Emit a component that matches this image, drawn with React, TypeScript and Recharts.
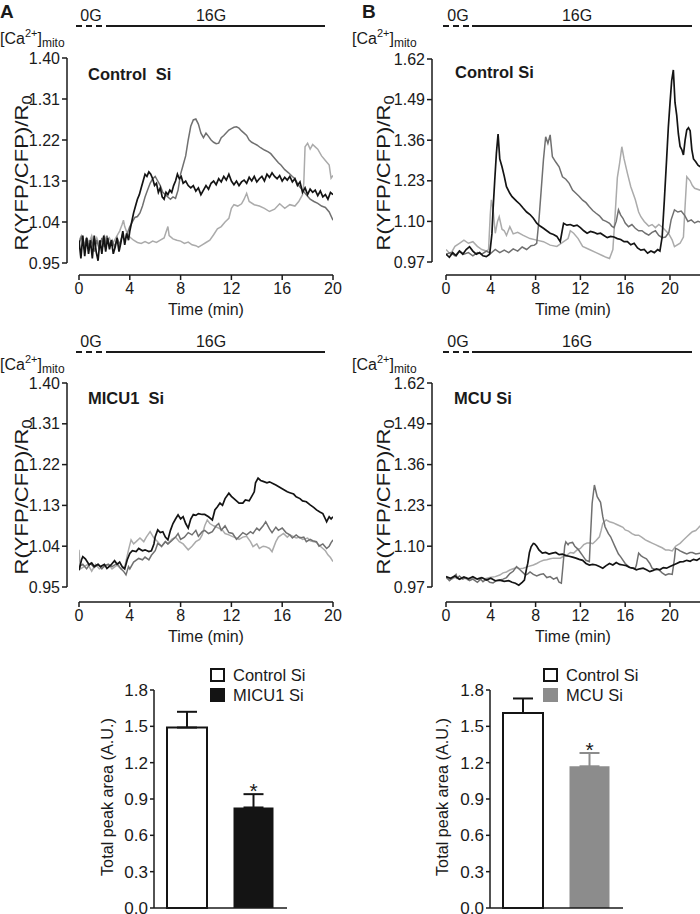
import React from 'react';
import { LineChart, Line, XAxis, YAxis, BarChart, Bar, Cell, ErrorBar, LabelList, Legend } from 'recharts';

const FONT = '"Liberation Sans", Arial, Helvetica, sans-serif';
const INK = '#1a1a1a';
const C_BLACK = '#141414';
const C_DARK = '#707070';
const C_LIGHT = '#ababab';

// ---------- Panel A (top): Control Si, [time min, ratio] ----------
const A1_BLACK: [number, number][] = [[0,1.0],[0.15,0.96],[0.3,1.01],[0.45,0.965],[0.6,1.005],[0.75,0.97],[0.9,1.0],[1.05,0.96],[1.2,1.01],[1.35,0.975],[1.5,0.955],[1.65,1.0],[1.8,0.97],[1.95,1.01],[2.1,0.975],[2.25,1.005],[2.4,0.98],[2.55,1.0],[2.7,0.97],[2.85,0.985],[3.0,1.005],[3.15,0.975],[3.3,0.995],[3.45,1.02],[3.6,0.99],[3.75,1.015],[3.9,1.0],[4.0,1.02],[4.15,1.04],[4.3,1.06],[4.45,1.075],[4.6,1.09],[4.75,1.1],[4.9,1.115],[5.05,1.13],[5.2,1.145],[5.35,1.14],[5.5,1.15],[5.65,1.145],[5.8,1.135],[5.95,1.12],[6.1,1.125],[6.25,1.105],[6.4,1.115],[6.55,1.095],[6.7,1.09],[6.85,1.105],[7.0,1.1],[7.15,1.11],[7.3,1.105],[7.45,1.12],[7.6,1.13],[7.75,1.145],[7.9,1.135],[8.05,1.14],[8.2,1.125],[8.4,1.13],[8.6,1.12],[8.8,1.115],[9.0,1.12],[9.2,1.108],[9.4,1.115],[9.6,1.1],[9.8,1.11],[10.0,1.12],[10.2,1.112],[10.4,1.125],[10.6,1.13],[10.8,1.122],[11.0,1.135],[11.2,1.128],[11.4,1.14],[11.6,1.132],[11.8,1.145],[12.0,1.13],[12.2,1.122],[12.4,1.13],[12.6,1.12],[12.8,1.128],[13.0,1.132],[13.2,1.125],[13.4,1.138],[13.6,1.13],[13.8,1.14],[14.0,1.128],[14.2,1.135],[14.4,1.14],[14.6,1.13],[14.8,1.145],[15.0,1.138],[15.2,1.148],[15.4,1.14],[15.6,1.135],[15.8,1.142],[16.0,1.13],[16.2,1.138],[16.4,1.132],[16.6,1.14],[16.8,1.128],[17.0,1.135],[17.2,1.12],[17.4,1.128],[17.6,1.105],[17.8,1.115],[18.0,1.1],[18.2,1.112],[18.4,1.105],[18.6,1.11],[18.8,1.098],[19.0,1.108],[19.2,1.095],[19.4,1.1],[19.6,1.09],[19.8,1.105],[20.0,1.1]];
const A1_DARK: [number, number][] = [[0,0.99],[0.2,1.01],[0.4,0.98],[0.6,1.005],[0.8,0.985],[1.0,1.0],[1.2,0.975],[1.4,1.0],[1.6,0.98],[1.8,1.005],[2.0,0.985],[2.2,1.01],[2.4,0.99],[2.6,1.0],[2.8,0.985],[3.0,1.005],[3.2,0.99],[3.4,1.01],[3.6,1.0],[3.8,1.015],[4.0,1.03],[4.2,1.04],[4.4,1.05],[4.6,1.052],[4.8,1.06],[5.0,1.075],[5.2,1.095],[5.4,1.11],[5.6,1.125],[5.8,1.135],[6.0,1.14],[6.2,1.13],[6.4,1.12],[6.6,1.105],[6.8,1.1],[7.0,1.095],[7.2,1.09],[7.4,1.095],[7.6,1.092],[7.8,1.11],[8.0,1.145],[8.2,1.165],[8.4,1.185],[8.6,1.22],[8.8,1.25],[9.0,1.264],[9.2,1.266],[9.4,1.255],[9.6,1.235],[9.8,1.225],[10.0,1.235],[10.2,1.228],[10.4,1.22],[10.6,1.215],[10.8,1.212],[11.0,1.213],[11.2,1.225],[11.4,1.23],[11.6,1.236],[11.8,1.242],[12.0,1.245],[12.2,1.248],[12.4,1.249],[12.6,1.246],[12.8,1.24],[13.0,1.235],[13.2,1.23],[13.4,1.22],[13.6,1.215],[13.8,1.212],[14.0,1.209],[14.3,1.203],[14.6,1.198],[14.9,1.194],[15.1,1.19],[15.4,1.18],[15.7,1.17],[15.9,1.165],[16.2,1.155],[16.5,1.148],[16.8,1.14],[17.0,1.135],[17.3,1.12],[17.6,1.11],[17.9,1.1],[18.2,1.09],[18.5,1.085],[18.8,1.081],[19.1,1.075],[19.4,1.072],[19.7,1.062],[20.0,1.044]];
const A1_LIGHT: [number, number][] = [[0,1.0],[0.2,1.01],[0.4,0.99],[0.6,1.005],[0.8,0.995],[1.0,1.01],[1.2,0.99],[1.4,1.005],[1.6,0.99],[1.8,1.0],[2.0,1.01],[2.2,0.995],[2.4,1.005],[2.6,0.99],[2.8,1.0],[3.0,1.01],[3.2,1.02],[3.4,1.035],[3.5,1.044],[3.6,1.03],[3.8,1.015],[4.0,1.007],[4.3,1.0],[4.6,0.995],[4.9,0.993],[5.2,0.997],[5.5,0.993],[5.8,0.998],[6.1,0.995],[6.4,1.0],[6.7,1.005],[7.0,1.03],[7.1,1.01],[7.4,1.003],[7.7,1.0],[8.0,0.998],[8.3,0.993],[8.6,0.996],[8.9,0.99],[9.2,0.988],[9.4,0.985],[9.7,0.99],[10.0,0.995],[10.3,1.0],[10.6,1.012],[10.9,1.025],[11.2,1.03],[11.5,1.04],[11.8,1.048],[12.0,1.07],[12.2,1.078],[12.5,1.075],[12.8,1.08],[13.0,1.09],[13.2,1.103],[13.4,1.085],[13.8,1.078],[14.2,1.075],[14.6,1.07],[15.0,1.063],[15.4,1.068],[15.8,1.08],[16.2,1.07],[16.6,1.078],[17.0,1.075],[17.3,1.085],[17.6,1.1],[17.7,1.125],[17.8,1.205],[18.0,1.213],[18.2,1.2],[18.4,1.21],[18.6,1.205],[18.8,1.2],[19.1,1.185],[19.4,1.175],[19.7,1.165],[19.85,1.136],[20.0,1.142]];

// ---------- Panel B (top): Control Si ----------
const B1_BLACK: [number, number][] = [[0,0.995],[0.3,0.985],[0.6,1.0],[0.9,0.99],[1.2,1.005],[1.5,0.995],[1.8,1.01],[2.1,1.019],[2.4,1.005],[2.7,0.995],[3.0,1.0],[3.3,0.99],[3.6,0.987],[3.9,0.995],[4.1,1.06],[4.2,1.137],[4.35,1.23],[4.5,1.318],[4.65,1.38],[4.8,1.3],[5.0,1.275],[5.2,1.245],[5.4,1.211],[5.7,1.19],[5.9,1.179],[6.3,1.165],[6.6,1.155],[6.9,1.142],[7.2,1.13],[7.5,1.122],[7.8,1.11],[8.1,1.094],[8.4,1.085],[8.7,1.078],[9.0,1.07],[9.3,1.062],[9.6,1.058],[9.9,1.052],[10.2,1.035],[10.4,1.075],[10.5,1.094],[10.8,1.088],[11.1,1.09],[11.4,1.085],[11.7,1.088],[12.0,1.08],[12.3,1.07],[12.6,1.062],[12.9,1.068],[13.2,1.065],[13.5,1.06],[13.8,1.062],[14.1,1.055],[14.4,1.048],[14.7,1.052],[15.0,1.05],[15.3,1.045],[15.6,1.042],[15.9,1.035],[16.2,1.035],[16.5,1.025],[16.8,1.03],[17.1,1.015],[17.4,1.008],[17.7,1.01],[18.0,0.998],[18.3,1.005],[18.6,1.0],[18.9,1.01],[19.1,1.005],[19.3,1.05],[19.5,1.17],[19.7,1.3],[19.85,1.4],[20.0,1.478],[20.15,1.55],[20.3,1.585],[20.45,1.48],[20.6,1.44],[20.75,1.38],[20.9,1.34],[21.05,1.33],[21.2,1.313],[21.35,1.36],[21.5,1.393],[21.65,1.4],[21.8,1.39],[21.95,1.33],[22.1,1.3],[22.3,1.291],[22.5,1.28],[22.7,1.275]];
const B1_DARK: [number, number][] = [[0,0.995],[0.4,1.0],[0.8,0.99],[1.2,1.005],[1.6,0.995],[2.0,1.0],[2.4,0.99],[2.8,1.0],[3.2,0.995],[3.6,1.005],[4.0,0.998],[4.4,1.01],[4.8,1.0],[5.2,1.008],[5.6,1.0],[6.0,1.012],[6.4,1.005],[6.8,1.018],[7.2,1.01],[7.6,1.022],[7.9,1.024],[8.1,1.03],[8.3,1.105],[8.5,1.2],[8.7,1.297],[8.9,1.371],[9.1,1.35],[9.3,1.377],[9.5,1.307],[9.8,1.29],[10.1,1.275],[10.4,1.243],[10.7,1.235],[11.0,1.222],[11.3,1.2],[11.6,1.19],[11.9,1.18],[12.2,1.168],[12.5,1.16],[12.8,1.147],[13.1,1.135],[13.4,1.126],[13.7,1.118],[14.0,1.105],[14.3,1.1],[14.6,1.094],[14.8,1.085],[15.0,1.08],[15.2,1.1],[15.4,1.137],[15.6,1.12],[15.8,1.11],[16.0,1.095],[16.3,1.083],[16.6,1.09],[16.9,1.078],[17.2,1.07],[17.5,1.07],[17.8,1.062],[18.1,1.056],[18.4,1.065],[18.7,1.07],[19.0,1.055],[19.3,1.048],[19.6,1.05],[19.9,1.065],[20.1,1.105],[20.4,1.137],[20.7,1.13],[21.0,1.133],[21.3,1.12],[21.6,1.1],[21.9,1.105],[22.2,1.095],[22.5,1.1],[22.7,1.098]];
const B1_LIGHT: [number, number][] = [[0,1.01],[0.4,0.995],[0.8,1.02],[1.2,1.03],[1.6,1.04],[2.0,1.03],[2.4,1.035],[2.8,1.02],[3.2,1.01],[3.6,1.005],[3.8,1.01],[3.95,1.12],[4.05,1.169],[4.2,1.14],[4.4,1.062],[4.6,1.1],[4.75,1.115],[5.0,1.075],[5.2,1.07],[5.4,1.055],[5.7,1.083],[6.0,1.06],[6.4,1.065],[6.9,1.055],[7.5,1.045],[8.1,1.04],[8.7,1.035],[9.3,1.024],[9.9,1.02],[10.5,1.035],[10.9,1.045],[11.1,1.07],[11.4,1.062],[11.8,1.045],[12.2,1.02],[12.8,1.01],[13.4,1.0],[14.0,0.99],[14.3,0.985],[14.6,0.981],[14.9,1.01],[15.1,1.12],[15.3,1.24],[15.5,1.286],[15.7,1.339],[15.9,1.3],[16.2,1.254],[16.5,1.211],[16.9,1.17],[17.2,1.13],[17.4,1.115],[17.7,1.1],[18.1,1.085],[18.4,1.09],[18.7,1.08],[19.0,1.09],[19.3,1.082],[19.9,1.06],[20.2,1.04],[20.4,1.019],[20.9,1.03],[21.2,1.05],[21.35,1.15],[21.5,1.243],[21.8,1.23],[22.0,1.215],[22.2,1.206],[22.7,1.2]];

// ---------- Panel A (bottom): MICU1 Si ----------
const A2_BLACK: [number, number][] = [[0,0.987],[0.2,1.01],[0.3,1.017],[0.5,1.012],[0.8,0.999],[1.0,1.003],[1.2,0.995],[1.5,1.0],[1.7,0.995],[2.0,1.0],[2.2,0.991],[2.5,0.998],[2.8,1.008],[3.0,1.0],[3.2,1.005],[3.4,0.995],[3.6,0.99],[3.8,1.01],[4.0,1.024],[4.2,1.03],[4.5,1.028],[4.7,1.035],[5.0,1.03],[5.2,1.032],[5.5,1.028],[5.7,1.03],[5.9,1.045],[6.0,1.061],[6.2,1.076],[6.4,1.07],[6.6,1.072],[6.8,1.06],[7.0,1.054],[7.2,1.075],[7.4,1.09],[7.6,1.1],[7.8,1.109],[8.0,1.1],[8.2,1.105],[8.4,1.09],[8.6,1.08],[8.8,1.1],[9.0,1.11],[9.2,1.108],[9.4,1.112],[9.7,1.11],[9.9,1.11],[10.2,1.105],[10.5,1.098],[10.7,1.12],[10.9,1.127],[11.1,1.135],[11.3,1.13],[11.5,1.145],[11.8,1.157],[12.0,1.15],[12.2,1.145],[12.4,1.14],[12.6,1.135],[12.9,1.135],[13.1,1.142],[13.4,1.14],[13.6,1.15],[13.8,1.16],[13.9,1.18],[14.1,1.19],[14.3,1.185],[14.5,1.183],[14.8,1.18],[15.0,1.182],[15.3,1.178],[15.5,1.175],[15.8,1.17],[16.1,1.165],[16.4,1.16],[16.6,1.158],[16.9,1.155],[17.1,1.149],[17.4,1.145],[17.6,1.14],[17.9,1.138],[18.2,1.131],[18.5,1.125],[18.7,1.12],[19.0,1.115],[19.2,1.112],[19.4,1.1],[19.5,1.094],[19.7,1.105],[19.85,1.1],[20.0,1.105]];
const A2_DARK: [number, number][] = [[0,0.995],[0.3,1.0],[0.6,0.99],[0.9,1.002],[1.2,0.993],[1.5,1.0],[1.8,0.99],[2.0,0.997],[2.3,1.0],[2.6,0.995],[3.0,1.002],[3.3,0.99],[3.5,0.985],[3.7,0.977],[3.9,0.995],[4.0,0.99],[4.3,1.005],[4.7,1.013],[5.0,1.01],[5.2,1.016],[5.5,1.01],[5.7,1.02],[6.0,1.03],[6.2,1.046],[6.5,1.04],[6.8,1.05],[7.0,1.045],[7.3,1.052],[7.6,1.06],[7.8,1.068],[8.0,1.055],[8.3,1.06],[8.6,1.07],[8.9,1.065],[9.2,1.075],[9.4,1.062],[9.7,1.072],[9.9,1.075],[10.2,1.068],[10.5,1.072],[10.8,1.085],[11.0,1.09],[11.2,1.075],[11.5,1.085],[11.8,1.07],[12.1,1.068],[12.4,1.055],[12.6,1.061],[12.9,1.07],[13.2,1.065],[13.5,1.072],[13.7,1.068],[14.0,1.08],[14.2,1.075],[14.5,1.085],[14.7,1.094],[15.0,1.078],[15.2,1.07],[15.5,1.082],[15.7,1.075],[16.0,1.08],[16.3,1.07],[16.6,1.065],[16.8,1.058],[17.1,1.065],[17.4,1.058],[17.7,1.06],[17.9,1.05],[18.2,1.055],[18.4,1.052],[18.7,1.05],[18.9,1.04],[19.2,1.045],[19.5,1.035],[19.7,1.04],[19.85,1.048],[20.0,1.054]];
const A2_LIGHT: [number, number][] = [[0,1.032],[0.1,0.99],[0.4,0.995],[0.7,1.0],[1.0,0.985],[1.3,1.0],[1.6,0.99],[2.0,0.995],[2.3,1.0],[2.6,0.99],[3.0,0.998],[3.3,0.99],[3.6,0.995],[3.9,1.032],[4.1,1.054],[4.3,1.045],[4.5,1.05],[4.8,1.058],[5.1,1.05],[5.3,1.06],[5.6,1.072],[5.9,1.058],[6.2,1.05],[6.5,1.039],[6.8,1.05],[7.0,1.045],[7.3,1.055],[7.6,1.06],[7.9,1.05],[8.2,1.045],[8.6,1.032],[8.9,1.04],[9.2,1.05],[9.5,1.055],[9.7,1.065],[9.9,1.085],[10.1,1.098],[10.3,1.09],[10.6,1.085],[11.0,1.08],[11.3,1.075],[11.5,1.068],[11.8,1.065],[12.1,1.061],[12.4,1.058],[12.6,1.055],[12.9,1.06],[13.2,1.062],[13.5,1.05],[13.7,1.039],[14.0,1.045],[14.2,1.035],[14.5,1.04],[14.7,1.039],[15.0,1.035],[15.2,1.028],[15.5,1.05],[15.7,1.06],[16.1,1.068],[16.4,1.06],[16.6,1.065],[17.1,1.058],[17.4,1.06],[17.6,1.055],[18.0,1.058],[18.2,1.052],[18.5,1.05],[18.7,1.048],[19.0,1.04],[19.2,1.035],[19.4,1.03],[19.6,1.021],[19.8,1.015],[20.0,1.006]];

// ---------- Panel B (bottom): MCU Si ----------
const B2_BLACK: [number, number][] = [[0,1.003],[0.4,0.998],[0.8,1.005],[1.2,0.995],[1.6,1.002],[2.0,0.996],[2.4,1.003],[2.8,0.995],[3.2,1.0],[3.6,0.992],[4.0,0.998],[4.4,0.99],[4.8,0.992],[5.2,0.988],[5.6,0.99],[5.9,0.985],[6.2,0.982],[6.5,0.976],[6.8,0.985],[7.0,0.992],[7.2,1.03],[7.3,1.045],[7.45,1.08],[7.6,1.098],[7.8,1.109],[7.9,1.108],[8.1,1.1],[8.3,1.088],[8.6,1.078],[8.9,1.08],[9.2,1.075],[9.5,1.078],[9.8,1.08],[10.1,1.073],[10.4,1.075],[10.7,1.07],[11.0,1.068],[11.3,1.065],[11.6,1.062],[11.9,1.058],[12.2,1.055],[12.5,1.045],[12.8,1.04],[13.1,1.042],[13.4,1.04],[13.7,1.035],[14.0,1.03],[14.3,1.038],[14.6,1.045],[14.9,1.04],[15.2,1.048],[15.5,1.042],[15.8,1.04],[16.1,1.038],[16.4,1.032],[16.7,1.03],[17.0,1.025],[17.3,1.028],[17.6,1.03],[17.9,1.025],[18.2,1.019],[18.5,1.023],[18.8,1.028],[19.1,1.025],[19.4,1.032],[19.7,1.03],[20.0,1.035],[20.3,1.04],[20.6,1.045],[20.9,1.05],[21.2,1.051],[21.5,1.055],[21.8,1.052],[22.1,1.058],[22.4,1.055],[22.7,1.062]];
const B2_DARK: [number, number][] = [[0,1.003],[0.3,0.99],[0.6,1.0],[0.9,1.01],[1.0,0.998],[1.2,1.005],[1.5,0.995],[1.8,1.0],[2.1,0.99],[2.4,0.995],[2.8,0.985],[3.1,0.995],[3.3,0.987],[3.6,0.995],[3.9,0.985],[4.2,0.983],[4.5,0.99],[4.8,0.992],[5.1,0.995],[5.4,1.0],[5.7,1.013],[6.0,1.02],[6.3,1.035],[6.6,1.025],[6.9,1.015],[7.1,1.008],[7.3,1.012],[7.5,1.018],[7.8,1.01],[8.1,1.005],[8.4,1.01],[8.7,1.012],[9.0,1.0],[9.3,1.003],[9.6,0.995],[9.9,1.0],[10.1,0.985],[10.3,0.982],[10.45,1.04],[10.6,1.1],[10.7,1.114],[10.9,1.105],[11.0,1.11],[11.3,1.112],[11.5,1.1],[11.8,1.09],[12.0,1.08],[12.2,1.07],[12.5,1.055],[12.8,1.051],[12.9,1.13],[13.05,1.237],[13.25,1.295],[13.5,1.258],[13.8,1.24],[14.0,1.194],[14.2,1.162],[14.5,1.14],[14.7,1.13],[15.1,1.098],[15.4,1.075],[15.6,1.066],[16.0,1.045],[16.3,1.035],[16.6,1.03],[16.9,1.03],[17.0,1.04],[17.2,1.078],[17.4,1.07],[17.6,1.065],[17.9,1.06],[18.2,1.045],[18.4,1.03],[18.7,1.025],[19.0,1.025],[19.3,1.015],[19.6,1.008],[19.9,1.012],[20.2,1.01],[20.4,1.06],[20.5,1.093],[20.7,1.09],[20.9,1.085],[21.2,1.08],[21.5,1.075],[21.8,1.08],[22.0,1.08],[22.3,1.075],[22.7,1.078]];
const B2_LIGHT: [number, number][] = [[0,0.998],[0.4,0.993],[0.8,1.0],[1.2,0.995],[1.6,1.0],[2.0,0.992],[2.4,0.998],[2.7,0.995],[3.1,1.0],[3.5,0.996],[3.9,1.0],[4.4,1.003],[4.8,1.008],[5.1,1.015],[5.4,1.018],[5.7,1.024],[6.0,1.028],[6.3,1.032],[6.6,1.028],[6.9,1.03],[7.3,1.035],[7.8,1.04],[8.1,1.045],[8.4,1.051],[8.7,1.055],[9.0,1.057],[9.3,1.06],[9.6,1.062],[10.2,1.062],[10.5,1.068],[10.8,1.072],[11.1,1.08],[11.4,1.078],[11.7,1.088],[12.0,1.093],[12.3,1.105],[12.6,1.11],[12.9,1.11],[13.1,1.108],[13.4,1.118],[13.7,1.13],[13.85,1.15],[14.0,1.173],[14.3,1.184],[14.6,1.178],[14.9,1.175],[15.2,1.17],[15.5,1.165],[15.8,1.16],[16.0,1.152],[16.3,1.148],[16.6,1.14],[16.9,1.135],[17.2,1.135],[17.5,1.128],[17.8,1.12],[18.1,1.115],[18.4,1.11],[18.7,1.105],[19.0,1.1],[19.3,1.095],[19.6,1.088],[19.9,1.088],[20.2,1.085],[20.5,1.1],[20.9,1.109],[21.2,1.12],[21.5,1.13],[21.8,1.14],[22.0,1.146],[22.3,1.15],[22.5,1.157],[22.7,1.165]];

// ---------- axes ----------
const TIME_TICKS = [0, 4, 8, 12, 16, 20];
const A_MAX_T = 20;
const B_MAX_T = 22.68;
const A_Y_TICKS = [0.95, 1.04, 1.13, 1.22, 1.31, 1.4];
const B_Y_TICKS = [0.97, 1.1, 1.23, 1.36, 1.49, 1.62];

// ---------- bar charts ----------
const BAR_TICKS = [0, 0.3, 0.6, 0.9, 1.2, 1.5, 1.8];
const BAR_A_GROUPS = ['Control Si', 'MICU1 Si'];
const BAR_A_MEANS = [1.49, 0.83];
const BAR_A_SEM = [0.13, 0.11];
const BAR_A_SIG = ['', '*'];
const BAR_B_GROUPS = ['Control Si', 'MCU Si'];
const BAR_B_MEANS = [1.61, 1.17];
const BAR_B_SEM = [0.12, 0.11];
const BAR_B_SIG = ['', '*'];

type Trace = { pts: [number, number][]; color: string; width: number };

function TracePanel(p: {
  left: number; top: number; width: number; height: number; yAxisWidth: number;
  marginTop: number; marginRight: number; yDomain: [number, number]; yTicks: number[];
  yPadBottom: number; yLineLen: number; xMax: number; xPadLeft: number; xLineLen: number; traces: Trace[];
}) {
  return (
    <div style={{ position: 'absolute', left: p.left, top: p.top }}>
      <LineChart width={p.width} height={p.height} margin={{ top: p.marginTop, right: p.marginRight, left: 0, bottom: 5 }}>
        <XAxis
          type="number"
          dataKey="t"
          domain={[0, p.xMax]}
          ticks={TIME_TICKS}
          interval={0}
          allowDataOverflow
          padding={{ left: p.xPadLeft, right: 0 }}
          height={40}
          tickSize={5}
          tickMargin={3}
          stroke={INK}
          axisLine={{ stroke: INK, strokeWidth: 1.5, strokeDasharray: `0 ${p.xPadLeft} ${p.xLineLen} 600` }}
          tickLine={{ stroke: INK, strokeWidth: 1.5 }}
          tick={{ fontSize: 16, fill: INK, fontFamily: FONT }}
          label={{ value: 'Time (min)', position: 'insideBottom', offset: 0, dx: p.xPadLeft / 2, fontSize: 16, fill: INK, fontFamily: FONT }}
        />
        <YAxis
          type="number"
          domain={p.yDomain}
          ticks={p.yTicks}
          interval={0}
          allowDataOverflow
          padding={{ top: 0, bottom: p.yPadBottom }}
          width={p.yAxisWidth}
          tickSize={5}
          tickMargin={2}
          stroke={INK}
          tickFormatter={(v: number) => v.toFixed(2)}
          axisLine={{ stroke: INK, strokeWidth: 1.5, strokeDasharray: `${p.yLineLen} 600` }}
          tickLine={{ stroke: INK, strokeWidth: 1.5 }}
          tick={{ fontSize: 16, fill: INK, fontFamily: FONT }}
        />
        {p.traces.map((tr, i) => (
          <Line
            key={i}
            data={tr.pts.map(([t, v]) => ({ t, v }))}
            dataKey="v"
            type="linear"
            dot={false}
            activeDot={false}
            stroke={tr.color}
            strokeWidth={tr.width}
            isAnimationActive={false}
          />
        ))}
      </LineChart>
    </div>
  );
}

function BarPanel(p: {
  left: number; yAxisWidth: number; marginRight: number; groups: string[]; means: number[]; sem: number[];
  sig: string[]; fills: string[]; strokes: string[]; errColors: string[]; legendLeft: number;
}) {
  const rows = p.groups.map((g, i) => ({
    name: g,
    value: p.means[i],
    err0: i === 0 ? [0, p.sem[i]] : undefined,
    err1: i === 1 ? [0, p.sem[i]] : undefined,
    sig: p.sig[i] || undefined,
  }));
  const legend = () => (
    <div style={{ fontFamily: FONT, fontSize: 16.5, color: INK }}>
      {p.groups.map((g, i) => (
        <div key={g} style={{ display: 'flex', alignItems: 'center', height: 20 }}>
          <span
            style={{
              display: 'inline-block', width: 15, height: 14, boxSizing: 'border-box', background: p.fills[i],
              border: p.strokes[i] === 'none' ? 'none' : `2px solid ${p.strokes[i]}`, marginRight: 8,
            }}
          />
          <span>{g}</span>
        </div>
      ))}
    </div>
  );
  return (
    <div style={{ position: 'absolute', left: p.left, top: 640 }}>
      <BarChart width={350} height={274} data={rows} margin={{ top: 50, right: p.marginRight, left: 0, bottom: 0 }} barSize={40}>
        <XAxis dataKey="name" tick={false} tickLine={false} height={6} axisLine={{ stroke: INK, strokeWidth: 1.5 }} />
        <YAxis
          domain={[0, 1.8]}
          ticks={BAR_TICKS}
          interval={0}
          width={p.yAxisWidth}
          tickSize={4}
          tickMargin={2}
          tickFormatter={(v: number) => v.toFixed(1)}
          axisLine={{ stroke: INK, strokeWidth: 1.5 }}
          tickLine={{ stroke: INK, strokeWidth: 1.5 }}
          tick={{ fontSize: 17, fill: INK, fontFamily: FONT }}
        />
        <Legend layout="vertical" align="center" verticalAlign="middle" wrapperStyle={{ left: p.legendLeft, top: 25, width: 150, height: 40 }} content={legend} />
        <Bar dataKey="value" isAnimationActive={false}>
          {rows.map((r, i) => (
            <Cell key={r.name} fill={p.fills[i]} stroke={p.strokes[i]} strokeWidth={p.strokes[i] === 'none' ? 0 : 2} />
          ))}
          <ErrorBar dataKey="err0" width={10} stroke={p.errColors[0]} strokeWidth={2} direction="y" />
          <ErrorBar dataKey="err1" width={10} stroke={p.errColors[1]} strokeWidth={2} direction="y" />
          <LabelList dataKey="sig" position="top" offset={9} fill={INK} fontSize={21} fontFamily={FONT} />
        </Bar>
      </BarChart>
    </div>
  );
}

function Overlay() {
  const yLabel = (x: number, cy: number) => (
    <text transform={`translate(${x},${cy}) rotate(-90)`} textAnchor="middle" fontSize={19} fill={INK}
      textLength={155} lengthAdjust="spacingAndGlyphs">
      R(YFP/CFP)/R<tspan fontSize={14} dy={4}>0</tspan>
    </text>
  );
  const ca = (x: number, y: number) => (
    <text x={x} y={y} fontSize={16} fill={INK}>
      [Ca<tspan fontSize={11} dy={-7}>2+</tspan><tspan dy={7}>]</tspan><tspan fontSize={12} dy={3}>mito</tspan>
    </text>
  );
  const stim = (y: number, x0: number, x1: number, x2: number, c0: number, c1: number) => (
    <g>
      <line x1={x0} x2={x1} y1={y} y2={y} stroke={INK} strokeWidth={2} strokeDasharray="6 4" />
      <line x1={x1} x2={x2} y1={y} y2={y} stroke={INK} strokeWidth={2} />
      <text x={c0} y={y - 5} textAnchor="middle" fontSize={16} fill={INK}>0G</text>
      <text x={c1} y={y - 5} textAnchor="middle" fontSize={16} fill={INK}>16G</text>
    </g>
  );
  const barLabel = (x: number) => (
    <text transform={`translate(${x},797) rotate(-90)`} textAnchor="middle" fontSize={17} fill={INK}
      textLength={158} lengthAdjust="spacingAndGlyphs">
      Total peak area (A.U.)
    </text>
  );
  return (
    <svg width={700} height={914} style={{ position: 'absolute', left: 0, top: 0, fontFamily: FONT }}>
      <text x={0} y={18} fontSize={19} fontWeight="bold" fill={INK}>A</text>
      <text x={362} y={18} fontSize={19} fontWeight="bold" fill={INK}>B</text>
      {stim(26, 76, 106, 325, 91, 211)}
      {stim(26, 443, 472, 692, 458, 577)}
      {stim(352, 76, 106, 325, 91, 211)}
      {stim(352, 443, 472, 692, 458, 577)}
      {ca(0, 44)}
      {ca(352, 44)}
      {ca(0, 370)}
      {ca(352, 370)}
      {yLabel(28, 173)}
      {yLabel(390, 173)}
      {yLabel(28, 497)}
      {yLabel(390, 497)}
      <text x={88} y={80} fontSize={16.5} fontWeight="bold" fill={INK} style={{ whiteSpace: 'pre' }}>Control  Si</text>
      <text x={455} y={78} fontSize={16.5} fontWeight="bold" fill={INK}>Control Si</text>
      <text x={88} y={404} fontSize={16.5} fontWeight="bold" fill={INK} style={{ whiteSpace: 'pre' }}>MICU1  Si</text>
      <text x={454} y={404} fontSize={16.5} fontWeight="bold" fill={INK}>MCU Si</text>
      {barLabel(113)}
      {barLabel(448)}
    </svg>
  );
}

export default function App() {
  const tr = (b: [number, number][], d: [number, number][], l: [number, number][]): Trace[] => [
    { pts: l, color: C_LIGHT, width: 1.5 },
    { pts: d, color: C_DARK, width: 1.5 },
    { pts: b, color: C_BLACK, width: 1.7 },
  ];
  return (
    <div style={{ position: 'absolute', left: 0, top: 0, width: 700, height: 914, background: '#fff', fontFamily: FONT, overflow: 'hidden' }}>
      <TracePanel left={0} top={0} width={345} height={320} yAxisWidth={67} marginTop={58} marginRight={12}
        yDomain={[0.95, 1.4]} yTicks={A_Y_TICKS} yPadBottom={12} yLineLen={205} xMax={A_MAX_T} xPadLeft={12} xLineLen={254}
        traces={tr(A1_BLACK, A1_DARK, A1_LIGHT)} />
      <TracePanel left={350} top={0} width={350} height={320} yAxisWidth={82} marginTop={59} marginRight={0}
        yDomain={[0.97, 1.62]} yTicks={B_Y_TICKS} yPadBottom={13} yLineLen={203} xMax={B_MAX_T} xPadLeft={14} xLineLen={254}
        traces={tr(B1_BLACK, B1_DARK, B1_LIGHT)} />
      <TracePanel left={0} top={325} width={345} height={322} yAxisWidth={67} marginTop={58} marginRight={12}
        yDomain={[0.95, 1.4]} yTicks={A_Y_TICKS} yPadBottom={15} yLineLen={204} xMax={A_MAX_T} xPadLeft={12} xLineLen={254}
        traces={tr(A2_BLACK, A2_DARK, A2_LIGHT)} />
      <TracePanel left={350} top={325} width={350} height={322} yAxisWidth={82} marginTop={58} marginRight={0}
        yDomain={[0.97, 1.62]} yTicks={B_Y_TICKS} yPadBottom={15} yLineLen={204} xMax={B_MAX_T} xPadLeft={14} xLineLen={254}
        traces={tr(B2_BLACK, B2_DARK, B2_LIGHT)} />
      <BarPanel left={0} yAxisWidth={154} marginRight={63} groups={BAR_A_GROUPS} means={BAR_A_MEANS} sem={BAR_A_SEM}
        sig={BAR_A_SIG} fills={['#ffffff', '#141414']} strokes={['#141414', 'none']} errColors={['#141414', '#141414']} legendLeft={210} />
      <BarPanel left={350} yAxisWidth={140} marginRight={77} groups={BAR_B_GROUPS} means={BAR_B_MEANS} sem={BAR_B_SEM}
        sig={BAR_B_SIG} fills={['#ffffff', '#8c8c8c']} strokes={['#141414', 'none']} errColors={['#141414', '#8c8c8c']} legendLeft={193} />
      <Overlay />
    </div>
  );
}
